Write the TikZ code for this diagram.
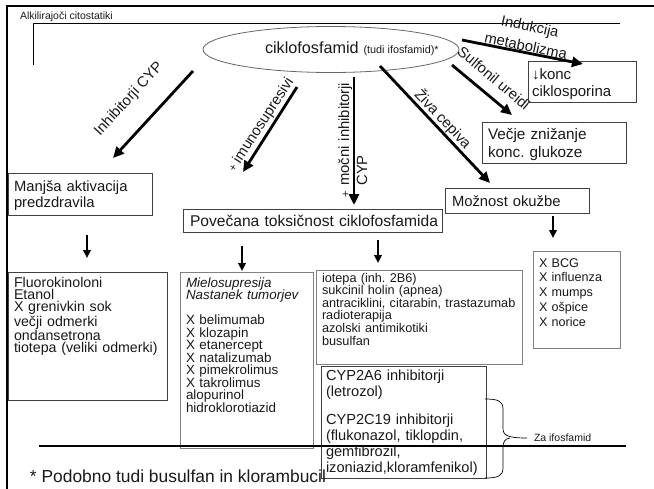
\documentclass[tikz,border=0pt]{standalone}
\usepackage{fontspec}
\setmainfont{Liberation Sans}
\usetikzlibrary{arrows.meta,shapes.geometric,calc}
\frenchspacing
% keep list lines on a fixed grid even when glyphs are tall
\lineskiplimit=-\maxdimen

\tikzset{
  every node/.style={inner sep=0pt, outer sep=0pt, text=black!90},
  box/.style={draw=black!75, line width=0.8pt, anchor=north west, rectangle},
  lbox/.style={box, draw=black!50},
  bigtxt/.style={anchor=base west, text width=#1, align=left,
    font=\fontsize{14.5}{16.5}\selectfont},
  listtxt/.style={anchor=base west, text width=#1, align=left,
    font=\fontsize{12.5}{12.5}\selectfont},
  lbl/.style={font=\fontsize{14.8}{16.5}\selectfont},
  bigarrow/.style={line width=2.8pt, -{Triangle[length=11pt,width=10pt]}},
  downarrow/.style={line width=2.2pt, -{Triangle[length=8pt,width=7.5pt]}},
  frameline/.style={line width=2.4pt, line cap=rect},
  thinline/.style={line width=0.9pt},
}

\begin{document}
\begin{tikzpicture}[x=1pt,y=-1pt]
\useasboundingbox (0,0) rectangle (654,488);

% slide frame and group bracket
\draw[frameline] (7,490) -- (7,6) -- (656,6);
\node[anchor=base west, font=\fontsize{10.5}{10.5}\selectfont] (grp) at (20,19) {Alkilirajoči citostatiki};
\coordinate (brA) at (33,65);
\coordinate (brB) at (33,23);
\coordinate (brC) at (620,23);
\draw[thinline] (brA) -- (brB) -- (brC);

% central drug
\node[draw=black!60, line width=0.8pt, ellipse, minimum width=256pt, minimum height=46pt] (ciklo) at (331,49.5) {};
\node[anchor=base west] (cikloT) at (265,53)
  {{\fontsize{16.2}{16}\selectfont ciklofosfamid}\hspace{5pt}{\fontsize{10.8}{10.5}\selectfont (tudi ifosfamid)*}};

% boxes
\node[box, minimum width=108pt, minimum height=41pt] (konc) at (528,61) {};
\node[box, minimum width=144pt, minimum height=41pt] (vecje) at (482,122) {};
\node[box, minimum width=144pt, minimum height=25pt] (moznost) at (445,188) {};
\node[box, minimum width=144pt, minimum height=42pt] (manjsa) at (8,173) {};
\node[box, minimum width=259pt, minimum height=23pt] (povec) at (183,209) {};
\node[box, minimum width=159pt, minimum height=128pt] (fluoro) at (8,272) {};
\node[lbox, minimum width=133pt, minimum height=176pt] (mielo) at (180,272) {};
\node[lbox, minimum width=206pt, minimum height=94pt] (iotepa) at (316,270) {};
\node[box, minimum width=165pt, minimum height=112pt] (cyp) at (321,366) {};
\node[lbox, minimum width=87pt, minimum height=97pt] (bcg) at (533,251) {};

% box texts
\node[bigtxt=100pt, font=\fontsize{15}{17}\selectfont] (koncT) at (532,79) {↓konc\\ciklosporina};
\node[bigtxt=138pt, font=\fontsize{15.3}{18}\selectfont] (vecjeT) at (488,139) {Večje znižanje\\konc. glukoze};
\node[bigtxt=135pt, font=\fontsize{14.8}{16}\selectfont] (moznostT) at (452,206) {Možnost okužbe};
\node[bigtxt=140pt, font=\fontsize{14.8}{16}\selectfont] (manjsaT) at (14,191) {Manjša aktivacija\\predzdravila};
\node[bigtxt=255pt, font=\fontsize{15.6}{16}\selectfont] (povecT) at (190,226) {Povečana toksičnost ciklofosfamida};

\node[listtxt=152pt, font=\fontsize{14.2}{12.4}\selectfont] (fluoroT) at (14,287)
  {Fluorokinoloni\\Etanol\\X grenivkin sok\\večji odmerki\\ondansetrona\\tiotepa (veliki odmerki)};
\node[listtxt=125pt, font=\fontsize{13.4}{12.5}\selectfont] (mieloT) at (186,287)
  {\textit{Mielosupresija}\\\textit{Nastanek tumorjev}\\[12.5pt]X belimumab\\X klozapin\\X etanercept\\X natalizumab\\X pimekrolimus\\X takrolimus\\alopurinol\\hidroklorotiazid};
\node[listtxt=200pt, font=\fontsize{12.7}{12.6}\selectfont] (iotepaT) at (322,282)
  {iotepa (inh. 2B6)\\sukcinil holin (apnea)\\antraciklini, citarabin, trastazumab\\radioterapija\\azolski antimikotiki\\busulfan};
\node[listtxt=160pt, font=\fontsize{14.6}{16}\selectfont] (cypT) at (326,380)
  {CYP2A6 inhibitorji\\(letrozol)\\[12pt]CYP2C19 inhibitorji\\(flukonazol, tiklopdin,\\gemfibrozil,\\izoniazid,kloramfenikol)};
\node[listtxt=80pt, font=\fontsize{12.6}{14.8}\selectfont] (bcgT) at (539,267)
  {X BCG\\X influenza\\X mumps\\X ošpice\\X norice};

% arrows from the central drug
\coordinate (a1s) at (193,71);  \coordinate (a1e) at (113,158);
\coordinate (a2s) at (297,87);  \coordinate (a2e) at (243,172);
\coordinate (a3s) at (354,77);  \coordinate (a3e) at (354,205);
\coordinate (a4s) at (380,66);  \coordinate (a4e) at (490,183);
\coordinate (a5s) at (452,65);  \coordinate (a5e) at (512,115);
\coordinate (a6s) at (462,40);  \coordinate (a6e) at (583,64);
\draw[bigarrow] (a1s) -- (a1e);
\draw[bigarrow] (a2s) -- (a2e);
\draw[bigarrow] (a3s) -- (a3e);
\draw[bigarrow] (a4s) -- (a4e);
\draw[bigarrow] (a5s) -- (a5e);
\draw[bigarrow] (a6s) -- (a6e);

% arrow labels
\node[lbl, rotate=47.4] (lab1) at (129,99) {Inhibitorji CYP};
\node[lbl, rotate=57] (lab2) at (261,125) {{\fontsize{11}{11}\selectfont +} imunosupresivi};
\node[anchor=base west, rotate=90, text width=130pt, align=left,
  font=\fontsize{14.8}{18}\selectfont] (lab3) at (349,197)
  {{\fontsize{11}{11}\selectfont +} močni inhibitorji\\\hphantom{{\fontsize{11}{11}\selectfont +} }CYP};
\node[lbl, rotate=-46.8] (lab4) at (443,119) {Živa cepiva};
\node[lbl, rotate=-39.8] (lab5) at (494,78) {Sulfonil ureidi};
\node[lbl, rotate=-12, align=center, font=\fontsize{14.8}{20}\selectfont] (lab6) at (528,36) {Indukcija\\metabolizma};

% downward arrows
\coordinate (d1s) at (87,235);  \coordinate (d1e) at (87,258);
\coordinate (d2s) at (242,246); \coordinate (d2e) at (242,271);
\coordinate (d3s) at (378,240); \coordinate (d3e) at (378,263);
\coordinate (d4s) at (553,216); \coordinate (d4e) at (553,238);
\draw[downarrow] (d1s) -- (d1e);
\draw[downarrow] (d2s) -- (d2e);
\draw[downarrow] (d3s) -- (d3e);
\draw[downarrow] (d4s) -- (d4e);

% brace for ifosfamide
\coordinate (bt) at (485,399);
\coordinate (bm) at (527,438);
\coordinate (bb) at (485,478);
\draw[thinline, line width=0.7pt] (bt) .. controls (498,399) and (503,401) .. (503,409) -- (503,428)
  .. controls (503,435) and (506,438) .. (bm);
\draw[thinline, line width=0.7pt] (510,438) .. controls (505,439) and (503,441) .. (503,448) -- (503,468)
  .. controls (503,476) and (498,478) .. (bb);
\node[anchor=base west, font=\fontsize{10.5}{10}\selectfont] (za) at (534,441) {Za ifosfamid};

% separator and footnote
\coordinate (sepL) at (39,446);
\coordinate (sepR) at (626,446);
\draw[line width=2.2pt] (sepL) -- (sepR);
\node[anchor=base west, font=\fontsize{17.4}{17}\selectfont] (foot) at (30,482) {* Podobno tudi busulfan in klorambucil};
\end{tikzpicture}
\end{document}
